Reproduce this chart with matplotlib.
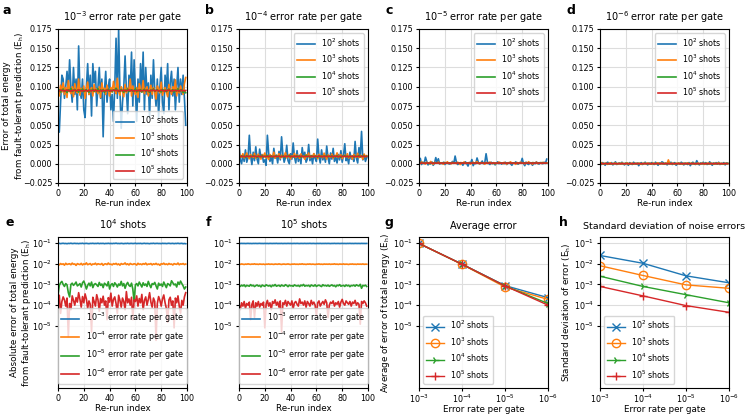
import numpy as np
import matplotlib.pyplot as plt

plt.rcParams['font.size'] = 5.8
plt.rcParams['axes.linewidth'] = 0.8

shots = ['10$^2$ shots', '10$^3$ shots', '10$^4$ shots', '10$^5$ shots']
rates = ['10$^{-3}$ error rate per gate', '10$^{-4}$ error rate per gate',
         '10$^{-5}$ error rate per gate', '10$^{-6}$ error rate per gate']

# error rate 1e-3 (a)
a_1e2 = [60, 41, 80, 115, 110, 85, 100, 120, 95, 135, 100, 80, 125, 90, 110, 70, 153, 95, 85, 110,
         70, 60, 100, 130, 90, 115, 62, 130, 105, 120, 75, 100, 125, 85, 110, 35, 95, 120, 80, 100,
         110, 70, 90, 55, 100, 163, 85, 175, 95, 46, 80, 100, 140, 95, 65, 115, 95, 145, 75, 135,
         95, 55, 110, 80, 130, 95, 145, 70, 125, 90, 105, 60, 115, 85, 135, 95, 75, 110, 60, 100,
         125, 80, 65, 115, 95, 130, 70, 105, 120, 88, 110, 70, 100, 125, 80, 110, 90, 115, 85, 50]  # 1e-3
a_1e3 = [97, 88, 102, 93, 105, 90, 99, 86, 108, 95, 91, 100, 87, 104, 96, 92, 110, 89, 98, 94,
         101, 85, 97, 106, 90, 95, 99, 88, 103, 93, 97, 91, 100, 86, 105, 94, 98, 90, 102, 95,
         88, 99, 93, 107, 96, 91, 111, 94, 89, 100, 95, 87, 103, 92, 98, 96, 110, 88, 101, 94,
         90, 99, 86, 104, 95, 93, 108, 91, 97, 100, 88, 96, 102, 90, 99, 94, 84, 101, 97, 92,
         106, 89, 95, 99, 93, 87, 103, 96, 90, 100, 94, 109, 88, 98, 92, 101, 95, 90, 104, 112]  # 1e-3
a_1e4 = [948, 962, 931, 955, 970, 940, 952, 925, 960, 945, 978, 938, 950, 966, 942, 955, 930, 958, 947, 972,
         936, 951, 963, 944, 929, 957, 949, 968, 939, 953, 945, 975, 933, 959, 948, 962, 927, 954, 946, 969,
         941, 956, 935, 961, 950, 981, 943, 952, 938, 965, 947, 929, 958, 944, 971, 937, 953, 960, 942, 949,
         976, 934, 957, 946, 963, 931, 952, 968, 940, 955, 945, 926, 959, 948, 972, 939, 954, 961, 943, 950,
         933, 966, 947, 958, 936, 953, 970, 941, 949, 962, 930, 957, 945, 974, 938, 951, 964, 924, 947, 922]  # 1e-4
a_1e5 = [951, 945, 958, 948, 954, 942, 950, 960, 946, 953, 939, 955, 949, 957, 944, 952, 961, 947, 950, 943,
         956, 948, 953, 941, 958, 950, 946, 955, 949, 962, 944, 951, 947, 957, 940, 953, 950, 945, 959, 948,
         954, 943, 951, 956, 946, 960, 949, 942, 955, 950, 947, 958, 944, 952, 949, 963, 945, 951, 956, 941,
         950, 954, 947, 959, 943, 952, 948, 955, 946, 957, 950, 940, 953, 949, 961, 945, 951, 956, 944, 950,
         958, 947, 953, 942, 955, 949, 960, 946, 952, 944, 957, 950, 948, 954, 943, 959, 949, 951, 946, 952]  # 1e-4

# error rate 1e-4 (b)
b_1e2 = [28, 5, 0, 12, 3, 18, 2, 8, 37, 10, -1, 15, 4, 22, 6, 0, 19, 8, 12, 2,
         5, -2, 37, 14, 3, 9, 0, 20, 7, 11, 1, 16, 5, 35, 12, 2, 8, 24, 4, 0,
         13, 6, 27, 9, 1, 17, 3, 11, 0, 21, 8, 15, 2, 6, 25, 4, 10, 0, 13, 7,
         3, 32, 9, 1, 18, 5, 11, 2, 23, 8, 0, 14, 6, 20, 3, 9, 1, 12, 5, 17,
         2, 11, 26, 4, 8, 0, 15, 6, 10, 3, 29, 7, 1, 21, 9, 42, 5, 12, 3, 8]  # 1e-3
b_1e3 = [60, 110, 85, 130, 75, 100, 140, 90, 65, 120, 95, 80, 135, 70, 105, 125, 88, 60, 115, 98,
         140, 78, 92, 55, 120, 100, 85, 150, 72, 108, 95, 130, 68, 112, 88, 102, 145, 76, 98, 120,
         62, 105, 90, 135, 80, 115, 95, 70, 128, 88, 100, 58, 118, 92, 140, 75, 108, 85, 132, 96,
         110, 65, 122, 90, 104, 78, 138, 92, 60, 115, 100, 85, 126, 70, 108, 95, 142, 80, 102, 118,
         66, 98, 112, 88, 130, 74, 105, 92, 60, 120, 96, 84, 136, 78, 110, 100, 58, 125, 90, 105]  # 1e-4
b_1e4 = [96, 88, 102, 93, 99, 85, 105, 92, 97, 100, 89, 107, 94, 98, 83, 101, 95, 91, 104, 87,
         99, 93, 110, 90, 96, 102, 86, 98, 94, 106, 89, 100, 95, 92, 103, 84, 97, 99, 91, 108,
         93, 96, 88, 101, 95, 104, 90, 98, 85, 102, 94, 97, 109, 91, 99, 87, 103, 95, 92, 100,
         96, 86, 105, 93, 98, 90, 101, 94, 107, 89, 97, 95, 102, 88, 99, 93, 104, 91, 96, 84,
         100, 95, 106, 92, 98, 90, 103, 94, 97, 87, 101, 96, 93, 108, 89, 99, 95, 102, 91, 97]  # 1e-4
b_1e5 = [952, 930, 975, 948, 920, 961, 940, 985, 953, 928, 966, 945, 990, 937, 958, 924, 970, 949, 935, 962,
         915, 955, 943, 978, 932, 960, 947, 925, 968, 951, 939, 983, 946, 921, 957, 964, 934, 950, 976, 942,
         918, 959, 948, 971, 936, 954, 929, 967, 944, 988, 938, 952, 923, 963, 950, 974, 933, 957, 945, 919,
         961, 949, 980, 937, 953, 927, 969, 946, 958, 941, 972, 931, 955, 948, 986, 939, 960, 924, 965, 951,
         943, 977, 935, 956, 947, 920, 962, 950, 973, 936, 954, 928, 968, 945, 959, 940, 979, 933, 952, 947]  # 1e-5

# error rate 1e-5 (c)
c_1e2 = [5, 70, -10, 20, 0, 85, 30, -15, 10, 0, 25, -20, 5, 80, 15, 65, -5, 10, 0, 20,
         -10, 5, 15, 0, -5, 10, 30, 5, 100, 20, -10, 0, 15, 5, -20, 10, 25, 0, -30, 15,
         5, 55, -25, 10, 0, 75, 20, -5, 10, 35, 0, 15, 130, 25, 5, -10, 20, 0, 10, -15,
         5, 25, 0, 15, -5, 10, 0, 20, -10, 5, 15, 0, -20, 10, 5, 25, 0, -5, 15, 10,
         70, 5, -25, 20, 0, -10, 15, 5, -20, 10, 0, 25, 5, -5, 15, 10, 0, 20, 5, 60]  # 1e-4
c_1e3 = [10, 0, 25, 5, 15, -5, 20, 8, 2, 30, 12, -8, 18, 6, 10, 22, 0, 14, 4, -6,
         16, 9, 26, 3, 11, -2, 19, 7, 13, 1, 21, 5, -10, 15, 8, 24, 2, 12, 6, 17,
         -4, 10, 20, 3, 14, 28, 6, 0, 16, 9, 11, -7, 18, 4, 13, 22, 1, 8, 15, -3,
         10, 5, 23, 7, 12, 0, 19, 6, -5, 14, 9, 25, 3, 11, 7, -8, 17, 2, 13, 20,
         5, 10, -2, 16, 8, 27, 4, 12, -6, 15, 6, 21, 1, 9, 14, 3, 18, 7, 11, 10]  # 1e-4
c_1e4 = [30, 90, 120, 140, 100, 80, 110, 95, 40, 25, 100, 115, 90, 105, 130, 85, 95, 110, 75, 120,
         145, 100, 60, 90, 115, 85, 130, 70, 100, 110, 95, 80, 125, 90, 105, 70, 115, 100, 85, 135,
         60, 95, 110, 80, 120, 100, 75, 105, 90, 140, 85, 110, 65, 100, 125, 90, 80, 115, 60, 15,
         95, 110, 85, 130, 100, 75, 120, 90, 105, 80, 140, 95, 70, 110, 100, 125, 85, 60, 115, 90,
         105, 80, 130, 95, 70, 110, 100, 85, 150, 120, 95, 105, 75, 130, 100, 145, 110, 85, 60, 75]  # 1e-5
c_1e5 = [88, 80, 92, 84, 95, 78, 90, 86, 82, 98, 85, 91, 79, 87, 94, 83, 89, 76, 93, 86,
         81, 96, 88, 84, 90, 77, 92, 85, 99, 82, 87, 91, 80, 94, 86, 83, 97, 89, 78, 92,
         85, 88, 81, 95, 87, 84, 90, 79, 93, 86, 100, 82, 89, 85, 91, 78, 94, 87, 83, 96,
         80, 88, 92, 85, 79, 97, 86, 90, 83, 93, 81, 88, 95, 84, 89, 77, 92, 86, 98, 82,
         87, 90, 80, 94, 85, 91, 78, 89, 86, 93, 82, 96, 88, 84, 101, 65, 90, 85, 92, 80]  # 1e-5

# error rate 1e-6 (d)
d_1e2 = [5, -10, 15, 0, -20, 10, 20, -5, 0, 15, -15, 5, 25, -10, 0, 10, -5, 20, 0, -15,
         10, 5, -20, 15, 0, -10, 20, 5, -5, 10, -25, 0, 15, -10, 5, 20, 0, -15, 10, -5,
         15, 0, -10, 20, 5, -20, 10, 0, 25, 15, -5, 10, -15, 5, 0, 20, -10, 5, 15, -20,
         0, 10, -5, 20, 5, -15, 10, 0, -10, 15, -25, 5, 20, 0, -10, 40, 5, -15, 10, 0,
         20, -5, 15, -10, 0, 25, 5, -20, 10, 0, 15, -5, 20, -10, 5, 0, 15, -15, 10, 5]  # 1e-4
d_1e3 = [10, 15, 0, -5, 8, 3, -8, 5, 12, 0, -3, 6, 10, -6, 2, 7, -4, 9, 1, -2,
         5, 11, -7, 4, 0, 8, -5, 3, 6, -2, 9, 1, -8, 5, 2, 7, -3, 10, 0, 4,
         -6, 8, 3, -1, 6, 12, -4, 2, 9, -5, 4, 7, 0, 50, 5, -3, 8, 1, -6, 6,
         3, 10, -2, 4, -7, 7, 0, 5, 11, -4, 2, 8, -1, 6, -5, 3, 9, 0, -3, 7,
         4, -8, 5, 1, 10, -2, 6, 3, -6, 8, 0, 4, 12, -3, 5, 1, -5, 7, 2, 3]  # 1e-4
d_1e4 = [200, 300, 40, 150, 250, 180, 90, 220, -3, 120, 60, 280, 170, 100, 230, 140, 400, 190, 80, 260,
         130, 350, 200, 70, 160, 110, 5, 240, 150, 90, 320, 180, 50, 210, 130, 270, 100, 160, 20, 230,
         140, 380, 90, 190, 250, 120, 40, 300, 170, 80, 220, 150, 60, 450, 130, 200, 100, 240, 20, 180,
         150, 280, 90, 210, 130, 330, 60, 170, 250, 100, 190, 400, 140, 80, 220, 150, -2, 120, 260, 170,
         90, 200, 310, 130, 70, 15, 180, 240, 100, 160, 8, 220, 130, 280, 90, 40, 170, 100, 250, 400]  # 1e-6
d_1e5 = [110, 60, 130, 90, 150, 70, 120, 100, 140, 20, 110, 160, 25, 130, 90, 150, 80, 120, 100, 140,
         8, 110, 170, 90, 130, 60, 150, 120, 180, 100, 140, 80, 160, 5, 130, 110, 170, 90, 150, 120,
         100, 160, 70, 130, 150, 110, 90, 200, 120, 140, 100, 160, 80, 150, 120, 90, 170, 110, 140, 100,
         30, 130, 160, 90, 120, 150, 110, 180, 130, 25, 100, 140, 120, 160, 90, 130, 110, 150, 80, 140,
         190, 120, 100, 160, 130, 110, 150, 90, 140, 120, 170, 100, 130, 110, 12, 150, 120, 160, 130, 90]  # 1e-6

# summary panels (g, h)
rate_x = [1e-3, 1e-4, 1e-5, 1e-6]
avg_1e2 = [0.095, 0.0095, 8.8e-4, 2.3e-4]
avg_1e3 = [0.095, 0.0093, 7.5e-4, 1.9e-4]
avg_1e4 = [0.095, 0.0095, 8.5e-4, 1.2e-4]
avg_1e5 = [0.095, 0.0095, 8.5e-4, 1.0e-4]
std_1e2 = [2.5e-2, 1.05e-2, 2.6e-3, 1.2e-3]
std_1e3 = [8.0e-3, 2.7e-3, 9.5e-4, 6.5e-4]
std_1e4 = [2.5e-3, 8.0e-4, 3.2e-4, 1.3e-4]
std_1e5 = [8.0e-4, 2.8e-4, 9.5e-5, 4.5e-5]

top = [
    [np.array(a_1e2) * 1e-3, np.array(a_1e3) * 1e-3, np.array(a_1e4) * 1e-4, np.array(a_1e5) * 1e-4],
    [np.array(b_1e2) * 1e-3, np.array(b_1e3) * 1e-4, np.array(b_1e4) * 1e-4, np.array(b_1e5) * 1e-5],
    [np.array(c_1e2) * 1e-4, np.array(c_1e3) * 1e-4, np.array(c_1e4) * 1e-5, np.array(c_1e5) * 1e-5],
    [np.array(d_1e2) * 1e-4, np.array(d_1e3) * 1e-4, np.array(d_1e4) * 1e-6, np.array(d_1e5) * 1e-6],
]
idx = np.arange(100)
colors = ['#1f77b4', '#ff7f0e', '#2ca02c', '#d62728']
W, H = 746, 416
lefts = [58, 239, 419, 600]
ylab = 'Error of total energy\nfrom fault-tolerant prediction (E$_\\mathrm{h}$)'
ylab2 = 'Absolute error of total energy\nfrom fault-tolerant prediction (E$_\\mathrm{h}$)'
EH = ' (E$_\\mathrm{h}$)'

fig = plt.figure(figsize=(W / 100, H / 100), dpi=100)


def add_ax(x0, ytop, ybot):
    return fig.add_axes([x0 / W, 1 - ybot / H, 129 / W, (ybot - ytop) / H])


def log_axis(ax):
    ax.set_yscale('log')
    ax.set_ylim(1e-8, 0.195)
    ax.set_yticks([1e-5, 1e-4, 1e-3, 1e-2, 1e-1])
    ax.yaxis.set_minor_locator(plt.NullLocator())
    ax.grid(True, color='#dddddd', linewidth=0.8)


# top row
for k in range(4):
    ax = add_ax(lefts[k], 29, 183)
    for j in range(4):
        ax.plot(idx, top[k][j], color=colors[j], lw=1.2, label=shots[j])
    ax.set_xlim(0, 100)
    ax.set_ylim(-0.025, 0.175)
    ax.set_yticks(np.arange(-0.025, 0.176, 0.025))
    ax.set_xticks([0, 20, 40, 60, 80, 100])
    ax.grid(True, color='#dddddd', linewidth=0.8)
    ax.set_title(rates[k], fontsize=7)
    ax.set_xlabel('Re-run index', fontsize=6.3, labelpad=1)
    ax.tick_params(labelsize=5.8, pad=1.5, length=2.5)
    ax.legend(loc='lower right' if k == 0 else 'upper right', fontsize=5.8, handlelength=2.2)
    if k == 0:
        ax.set_ylabel(ylab, fontsize=6.3, linespacing=1.15)
        ax.yaxis.set_label_coords(-0.25, 0.5)
    ax.text(-0.43 if k == 0 else -0.26, 1.16, 'abcd'[k], transform=ax.transAxes,
            fontsize=9, fontweight='bold', va='top')

# bottom row e, f
for k, (j, title) in enumerate([(2, '10$^4$ shots'), (3, '10$^5$ shots')]):
    ax = add_ax(lefts[k], 237, 388)
    for r in range(4):
        ax.plot(idx, np.abs(top[r][j]), color=colors[r], lw=1.2, label=rates[r])
    log_axis(ax)
    ax.set_xlim(0, 100)
    ax.set_xticks([0, 20, 40, 60, 80, 100])
    ax.set_title(title, fontsize=7)
    ax.set_xlabel('Re-run index', fontsize=6.3, labelpad=1)
    ax.tick_params(labelsize=5.8, pad=1.5, length=2.5)
    ax.legend(loc='lower center', fontsize=5.8, handlelength=2.2)
    if k == 0:
        ax.set_ylabel(ylab2, fontsize=6.3, linespacing=1.15)
        ax.yaxis.set_label_coords(-0.19, 0.5)
    ax.text(-0.41 if k == 0 else -0.26, 1.14, 'ef'[k], transform=ax.transAxes,
            fontsize=9, fontweight='bold', va='top')

# g, h
markers = ['x', 'o', '4', '+']
for k, (series, title, yl) in enumerate([
        ([avg_1e2, avg_1e3, avg_1e4, avg_1e5], 'Average error', 'Average of error of total energy' + EH),
        ([std_1e2, std_1e3, std_1e4, std_1e5], 'Standard deviation of noise errors',
         'Standard deviation of error' + EH)]):
    ax = add_ax(lefts[k + 2], 237, 388)
    for j in range(4):
        ax.plot(rate_x, series[j], color=colors[j], lw=1.0, marker=markers[j], ms=6,
                mfc='none' if j == 1 else colors[j], label=shots[j])
    ax.set_xscale('log')
    ax.set_xlim(1e-3, 1e-6)
    ax.set_xticks(rate_x)
    ax.xaxis.set_minor_locator(plt.NullLocator())
    log_axis(ax)
    ax.set_title(title, fontsize=7 if k == 0 else 6.8)
    ax.set_xlabel('Error rate per gate', fontsize=6.3, labelpad=0)
    ax.set_ylabel(yl, fontsize=6.3, labelpad=1)
    ax.tick_params(labelsize=5.8, pad=1.5, length=2.5)
    ax.tick_params(axis='x', pad=1)
    ax.legend(loc='lower left', fontsize=5.8, handlelength=2.2)
    ax.text(-0.27 if k == 0 else -0.32, 1.14, 'gh'[k], transform=ax.transAxes,
            fontsize=9, fontweight='bold', va='top')

fig.savefig('out.png', dpi=100)
